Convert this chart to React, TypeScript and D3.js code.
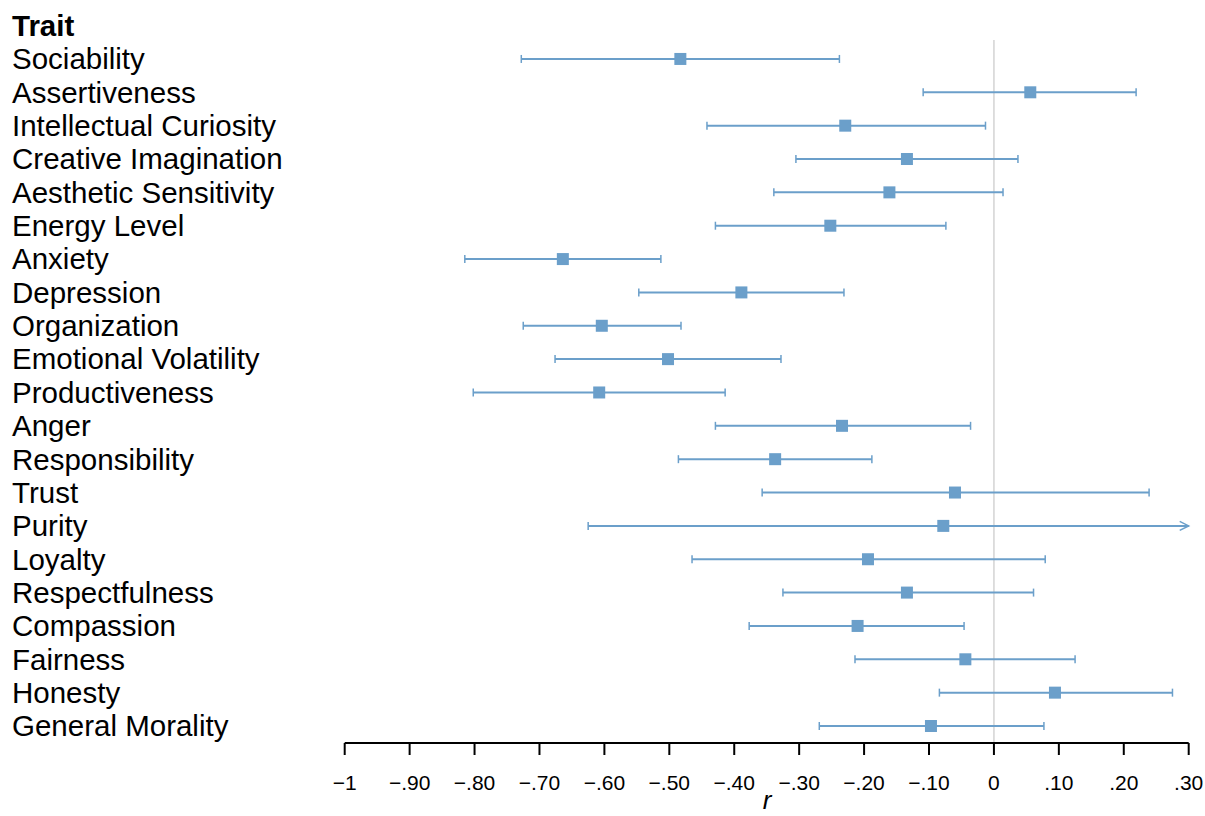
import * as d3 from "d3";
import * as React from "react";

// traits, top to bottom
const traits = [
  "Sociability",
  "Assertiveness",
  "Intellectual Curiosity",
  "Creative Imagination",
  "Aesthetic Sensitivity",
  "Energy Level",
  "Anxiety",
  "Depression",
  "Organization",
  "Emotional Volatility",
  "Productiveness",
  "Anger",
  "Responsibility",
  "Trust",
  "Purity",
  "Loyalty",
  "Respectfulness",
  "Compassion",
  "Fairness",
  "Honesty",
  "General Morality",
];

// correlation estimates and CI bounds
const estimate = [-0.483, 0.056, -0.229, -0.134, -0.161, -0.252, -0.664, -0.389, -0.604, -0.502, -0.608, -0.234, -0.337, -0.06, -0.078, -0.194, -0.134, -0.21, -0.044, 0.094, -0.097];
const lower = [-0.728, -0.109, -0.442, -0.305, -0.339, -0.429, -0.815, -0.547, -0.725, -0.676, -0.802, -0.429, -0.486, -0.357, -0.625, -0.465, -0.325, -0.377, -0.214, -0.084, -0.269];
const upper = [-0.238, 0.219, -0.013, 0.037, 0.014, -0.074, -0.513, -0.231, -0.482, -0.328, -0.414, -0.036, -0.188, 0.239, 0.47, 0.079, 0.061, -0.046, 0.125, 0.275, 0.077];

const tickValues = [-1, -0.9, -0.8, -0.7, -0.6, -0.5, -0.4, -0.3, -0.2, -0.1, 0, 0.1, 0.2, 0.3];
const tickLabels = ["\u22121", "\u2212.90", "\u2212.80", "\u2212.70", "\u2212.60", "\u2212.50", "\u2212.40", "\u2212.30", "\u2212.20", "\u2212.10", "0", ".10", ".20", ".30"];

const width = 1205;
const height = 816;
const blue = "#6b9fca";
const font = "Liberation Sans, Arial, sans-serif";

export default function App() {
  const x = d3.scaleLinear().domain([-1, 0.3]).range([344.7, 1188.7]);
  const y = d3
    .scalePoint()
    .domain(["Trait", ...traits])
    .range([25.6, 726]);
  const axisY = 743;
  const xMax = x.domain()[1];

  return (
    <svg
      width={width}
      height={height}
      style={{ position: "absolute", left: 0, top: 0, background: "#fff" }}
      fontFamily={font}
    >
      {/* zero reference line */}
      <line x1={x(0)} x2={x(0)} y1={40} y2={axisY} stroke="#d3d3d3" strokeWidth={1.5} />

      {/* labels */}
      <text x={12} y={y("Trait")} dy="0.35em" fontSize={29.5} fontWeight="bold" fill="#000">
        Trait
      </text>
      {traits.map((t) => (
        <text key={t} x={12} y={y(t)} dy="0.35em" fontSize={29.5} fill="#000">
          {t}
        </text>
      ))}

      {/* error bars */}
      {traits.map((t, i) => {
        const cy = y(t) as number;
        const lo = x(lower[i]);
        const clipped = upper[i] > xMax;
        const hi = x(Math.min(upper[i], xMax));
        return (
          <g key={t}>
            <line x1={lo} x2={hi} y1={cy} y2={cy} stroke={blue} strokeWidth={2} />
            <line x1={lo} x2={lo} y1={cy - 4} y2={cy + 4} stroke={blue} strokeWidth={1.5} />
            {clipped ? (
              <path
                d={`M${hi - 9},${cy - 4.5}L${hi},${cy}L${hi - 9},${cy + 4.5}`}
                fill="none"
                stroke={blue}
                strokeWidth={1.5}
              />
            ) : (
              <line x1={hi} x2={hi} y1={cy - 4} y2={cy + 4} stroke={blue} strokeWidth={1.5} />
            )}
            <rect x={x(estimate[i]) - 6} y={cy - 6} width={12} height={12} fill={blue} />
          </g>
        );
      })}

      {/* x axis */}
      <line x1={x(-1)} x2={x(0.3)} y1={axisY} y2={axisY} stroke="#000" strokeWidth={2} />
      {tickValues.map((v, i) => (
        <g key={v}>
          <line x1={x(v)} x2={x(v)} y1={axisY} y2={axisY + 12} stroke="#000" strokeWidth={2} />
          <text x={x(v)} y={axisY + 47} textAnchor="middle" fontSize={21} fill="#000">
            {tickLabels[i]}
          </text>
        </g>
      ))}
      <text x={767} y={809} textAnchor="middle" fontSize={26} fontStyle="italic" fill="#000">
        r
      </text>
    </svg>
  );
}
